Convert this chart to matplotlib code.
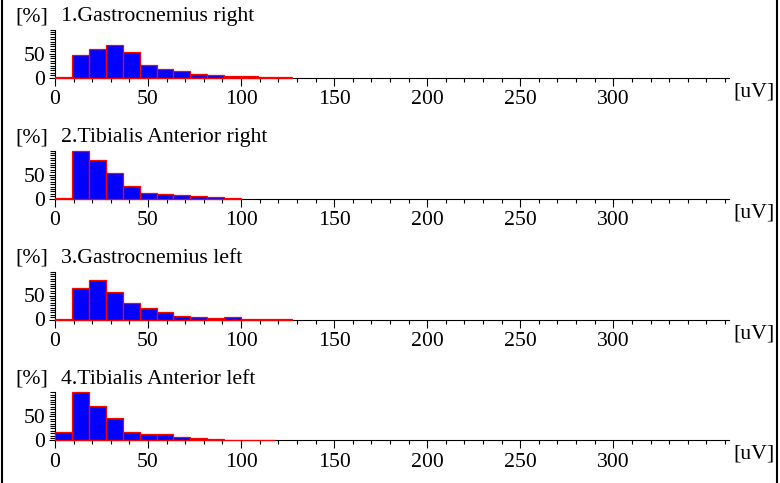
import numpy as np
import matplotlib.pyplot as plt
from matplotlib.lines import Line2D
from matplotlib.ticker import FixedLocator, MultipleLocator

plt.rcParams['font.family'] = ['Liberation Serif', 'DejaVu Serif']

# histogram data, % per amplitude bin (bin width 100/11 uV)
titles = ["1.Gastrocnemius right", "2.Tibialis Anterior right",
          "3.Gastrocnemius left", "4.Tibialis Anterior left"]
gastro_right = [0.5, 47, 59, 69, 53, 26, 19, 13, 8, 6, 4, 3, 1.5, 0.5]
tibialis_right = [1, 100, 81, 54, 26, 12, 10, 8, 6, 4, 1]
gastro_left = [1, 66, 83, 58, 35, 24, 15, 8, 6, 3.5, 5, 2, 1.4, 0.7]
tibialis_left = [18, 100, 72, 47, 18, 14, 12.5, 7.6, 4, 2.8, 1.4, 1.4, 0.7]
values = [gastro_right, tibialis_right, gastro_left, tibialis_left]
bin_width = 100 / 11
x_ticks = [0, 50, 100, 150, 200, 250, 300]

W, H = 780, 483
fs = 15.7

fig = plt.figure(figsize=(7.8, 4.83), dpi=100)

for i, (title, vals) in enumerate(zip(titles, values)):
    zero_px = 77.7 + i * 120.9
    ax = fig.add_axes([55 / W, 1 - zero_px / H, 673.7 / W, 48 / H])
    x = np.arange(len(vals)) * bin_width
    ax.bar(x, vals, width=bin_width, align='edge', color='#0000ff',
           edgecolor='#ff0000', linewidth=0.9, zorder=3, clip_on=False)
    ax.set_xlim(0, 362)
    ax.set_ylim(0, 100)
    ax.spines['top'].set_visible(False)
    ax.spines['right'].set_visible(False)
    ax.spines['left'].set_linewidth(0.8)
    ax.spines['bottom'].set_linewidth(0.8)
    ax.patch.set_visible(False)

    ax.xaxis.set_major_locator(FixedLocator(x_ticks))
    ax.xaxis.set_minor_locator(MultipleLocator(10))
    ax.yaxis.set_major_locator(FixedLocator([0, 50]))
    ax.yaxis.set_minor_locator(MultipleLocator(5))
    ax.tick_params(axis='x', which='major', length=6, width=0.8, pad=3, labelsize=fs)
    ax.tick_params(axis='x', which='minor', length=3, width=0.8)
    ax.tick_params(axis='y', which='major', length=4.5, width=0.8, pad=2.5, labelsize=fs)
    ax.tick_params(axis='y', which='minor', length=3.5, width=0.8)

    ty = 1 - (zero_px - 61) / H
    fig.text(15 / W, ty, "[%]", fontsize=fs, va='center', ha='left')
    fig.text(61 / W, ty, title, fontsize=fs, va='center', ha='left')
    fig.text(733 / W, 1 - (zero_px + 14) / H, "[uV]", fontsize=fs, va='center', ha='left')

# frame lines at left and right
fig.add_artist(Line2D([2 / W, 2 / W], [0, 1], color='black', lw=1.5))
fig.add_artist(Line2D([777 / W, 777 / W], [0, 1], color='black', lw=1.5))

fig.savefig('out.png', dpi=100)
